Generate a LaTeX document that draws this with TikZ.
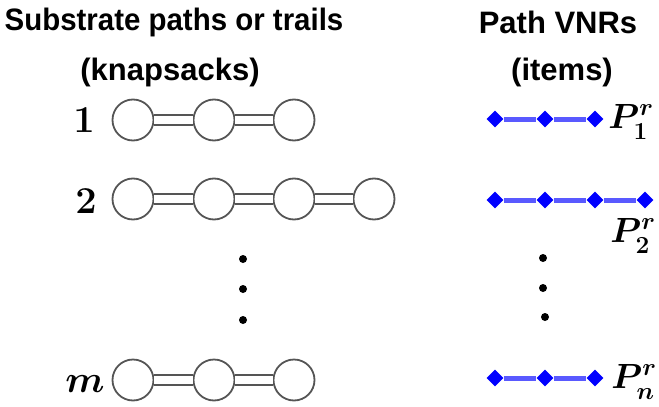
\RequirePackage{fix-cm}
\documentclass[tikz,border=0pt]{standalone}
\usepackage{fontspec}
\newfontfamily\hfont{Liberation Sans}
\usetikzlibrary{shapes.geometric}
\definecolor{cgray}{HTML}{555555}
\tikzset{
  snode/.style={circle,draw=cgray,line width=1.8pt,minimum size=41pt,inner sep=0pt},
  slink/.style={draw=cgray,line width=1.6pt,double=white,double distance=8pt},
  vnode/.style={diamond,fill=blue,inner sep=0pt,minimum width=17pt,minimum height=17pt},
  vlink/.style={draw=blue,draw opacity=0.65,line width=5pt},
  head/.style={font=\hfont\bfseries\fontsize{31}{34}\selectfont,inner sep=0pt},
  rowlab/.style={font=\fontsize{38}{42}\selectfont\boldmath,inner sep=0pt},
  plab/.style={font=\fontsize{35}{38}\selectfont\boldmath,inner sep=0pt},
  dotn/.style={circle,fill=black,minimum size=8pt,inner sep=0pt}
}
\begin{document}
\begin{tikzpicture}[x=1pt,y=-1pt]
\useasboundingbox (0,0) rectangle (659,407);
% headings
\node[head,xscale=0.95] (h1) at (174,22) {Substrate paths or trails};
\node[head] (h2) at (170,72) {(knapsacks)};
\node[head] (h3) at (558,22) {Path VNRs};
\node[head] (h4) at (562,72) {(items)};
% row 1
\node[rowlab] (l1) at (84,120) {$1$};
\node[snode] (a1) at (133,120) {};
\node[snode] (a2) at (214,120) {};
\node[snode] (a3) at (294,120) {};
\draw[slink] (a1) -- (a2);
\draw[slink] (a2) -- (a3);
% row 2
\node[rowlab] (l2) at (86,201) {$2$};
\node[snode] (b1) at (133,199) {};
\node[snode] (b2) at (214,199) {};
\node[snode] (b3) at (294,199) {};
\node[snode] (b4) at (374,199) {};
\draw[slink] (b1) -- (b2);
\draw[slink] (b2) -- (b3);
\draw[slink] (b3) -- (b4);
% row m
\node[rowlab] (lm) at (85,384) {$m$};
\node[snode] (c1) at (133,380) {};
\node[snode] (c2) at (214,380) {};
\node[snode] (c3) at (294,380) {};
\draw[slink] (c1) -- (c2);
\draw[slink] (c2) -- (c3);
% left dots
\node[dotn] (d1) at (243,259) {};
\node[dotn] (d2) at (243,289) {};
\node[dotn] (d3) at (243,320) {};
% VNR row 1
\node[vnode] (p1) at (495,119) {};
\node[vnode] (p2) at (545,119) {};
\node[vnode] (p3) at (595,119) {};
\draw[vlink] (p1) -- (p2);
\draw[vlink] (p2) -- (p3);
\node[plab] (P1) at (631,122) {$P^r_1$};
% VNR row 2
\node[vnode] (q1) at (495,200) {};
\node[vnode] (q2) at (545,200) {};
\node[vnode] (q3) at (595,200) {};
\node[vnode] (q4) at (645,200) {};
\draw[vlink] (q1) -- (q2);
\draw[vlink] (q2) -- (q3);
\draw[vlink] (q3) -- (q4);
\node[plab] (P2) at (633,236) {$P^r_2$};
% VNR row n
\node[vnode] (r1) at (495,378) {};
\node[vnode] (r2) at (545,378) {};
\node[vnode] (r3) at (595,378) {};
\draw[vlink] (r1) -- (r2);
\draw[vlink] (r2) -- (r3);
\node[plab] (Pn) at (634,382) {$P^r_n$};
% right dots
\node[dotn] (e1) at (543,258) {};
\node[dotn] (e2) at (543,288) {};
\node[dotn] (e3) at (545,317) {};
\end{tikzpicture}
\end{document}
